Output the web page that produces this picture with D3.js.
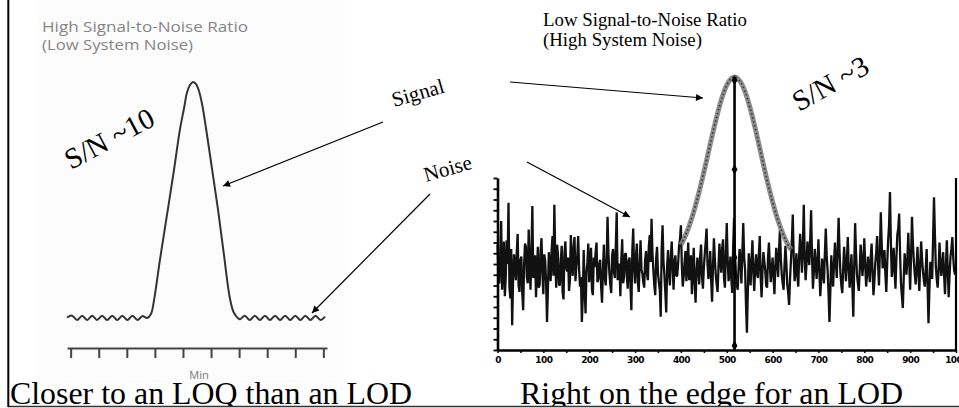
<!DOCTYPE html>
<html><head><meta charset="utf-8">
<script src="https://cdn.jsdelivr.net/npm/d3@7"></script>
<style>html,body{margin:0;padding:0;background:#fff;overflow:hidden;} svg{display:block;}</style>
</head><body>
<svg id="c" width="959" height="408"></svg>
<script>
// ---------- DATA ----------
// Left panel: idealised chromatogram (time in "Min" tick units, response)
const leftTicks = [0,1,2,3,4,5,6,7,8,9];
const leftTrace = [
  [-0.13,0.02],[0.05,0.10],[0.23,-0.08],[0.41,0.10],[0.59,-0.08],[0.77,0.10],[0.94,-0.08],[1.12,0.10],
  [1.30,-0.08],[1.48,0.10],[1.66,-0.08],[1.84,0.10],[2.02,-0.08],[2.20,0.10],[2.38,-0.08],[2.56,0.08],
  [2.72,0.0],[2.86,0.17],[2.97,0.76],[3.18,2.46],[3.43,4.36],[3.68,6.27],[3.89,7.97],[4.04,8.90],
  [4.14,9.53],[4.25,9.87],[4.36,10.0],[4.46,9.92],[4.57,9.62],[4.68,9.07],[4.82,8.05],[5.03,6.36],
  [5.25,4.58],[5.46,2.67],[5.67,0.85],[5.82,0.21],[6.03,-0.05],[6.20,0.10],[6.38,-0.08],[6.56,0.10],
  [6.74,-0.08],[6.92,0.10],[7.10,-0.08],[7.28,0.10],[7.46,-0.08],[7.64,0.10],[7.82,-0.08],[8.00,0.10],
  [8.18,-0.08],[8.36,0.10],[8.54,-0.08],[8.72,0.10],[8.90,-0.08],[9.06,0.06]
];

// Right panel: noisy trace; noiseValues at x = 0,4,8,...,996 and noiseValuesMid at x = 2,6,10,...,998
const noiseStep = 4;
const noiseValues = [
  9.8, 6.2, 12.0, 7.5, 5.0, 10.2, 13.7, 4.8, 2.3, 8.9,
  6.5, 10.8, 5.4, 8.7, 3.7, 9.9, 6.8, 11.2, 5.6, 13.4,
  7.0, 4.9, 9.6, 6.1, 10.4, 5.2, 8.3, 2.6, 9.1, 6.4,
  10.6, 13.5, 5.8, 8.8, 6.0, 9.7, 4.7, 10.1, 7.3, 5.5,
  10.7, 6.9, 10.5, 7.8, 10.6, 5.9, 2.6, 9.3, 3.4, 8.1,
  6.3, 9.5, 5.1, 7.7, 10.0, 6.6, 8.4, 4.4, 9.8, 6.0,
  12.4, 7.2, 5.3, 9.4, 6.7, 12.8, 8.0, 5.0, 10.3, 6.8,
  9.0, 5.7, 8.6, 3.7, 11.3, 6.2, 9.9, 5.4, 10.2, 7.1,
  5.8, 9.2, 6.5, 10.7, 12.2, 7.4, 5.1, 9.6, 6.3, 3.1,
  11.6, 7.0, 3.5, 9.3, 6.0, 10.1, 5.6, 8.8, 6.9, 9.7,
  11.6, 5.9, 8.2, 6.4, 10.0, 7.3, 5.2, 9.5, 4.4, 8.6,
  6.1, 9.8, 5.7, 8.9, 11.3, 6.6, 9.2, 4.5, 10.4, 7.0,
  5.4, 9.9, 7.2, 10.3, 5.8, 11.8, 6.4, 8.7, 5.3, 12.3,
  7.1, 5.6, 9.4, 6.2, 11.8, 7.5, 1.6, 9.0, 6.0, 10.2,
  5.5, 8.9, 6.7, 10.6, 4.9, 9.1, 7.4, 5.8, 10.0, 6.3,
  8.6, 5.2, 9.5, 6.8, 11.2, 7.0, 5.6, 9.7, 6.1, 4.2,
  8.3, 12.6, 6.4, 9.0, 5.9, 10.8, 7.2, 13.5, 6.5, 10.1,
  7.9, 13.0, 5.7, 9.4, 6.6, 10.3, 5.0, 8.5, 6.2, 11.3,
  7.4, 2.6, 8.8, 5.9, 10.0, 6.7, 12.3, 7.1, 5.3, 9.6,
  6.4, 10.5, 5.8, 8.9, 3.1, 11.8, 7.0, 5.5, 9.8, 6.9,
  10.4, 5.9, 8.7, 6.3, 9.9, 5.1, 8.1, 10.6, 6.0, 12.8,
  7.6, 9.3, 5.4, 10.2, 14.7, 6.8, 9.5, 5.7, 10.7, 12.7,
  6.2, 3.9, 9.0, 7.0, 10.9, 5.6, 12.4, 8.3, 6.1, 9.6,
  5.5, 10.1, 7.3, 5.9, 9.4, 2.5, 8.2, 6.6, 14.2, 7.8,
  5.8, 10.0, 6.9, 9.1, 5.2, 10.2, 4.9, 8.7, 10.5, 7.4
];
const noiseValuesMid = [
  7.2, 8.9, 5.6, 10.1, 6.8, 8.0, 5.9, 9.4, 6.6, 7.8,
  9.1, 6.0, 8.4, 5.3, 7.9, 9.6, 6.2, 8.1, 9.0, 6.7,
  8.8, 7.4, 5.8, 9.2, 7.1, 8.9, 6.3, 5.7, 7.6, 9.3,
  6.9, 8.5, 9.8, 6.1, 8.2, 5.4, 9.0, 7.7, 8.6, 6.5,
  8.3, 9.5, 6.4, 8.7, 7.5, 6.8, 4.9, 6.0, 7.2, 9.9,
  7.8, 5.6, 8.6, 9.1, 6.3, 8.0, 5.9, 7.4, 6.8, 8.2,
  9.0, 6.1, 8.8, 7.3, 9.7, 6.5, 7.9, 8.4, 6.2, 8.9,
  7.0, 8.3, 5.9, 9.2, 7.6, 8.7, 6.4, 8.0, 7.5, 6.3,
  8.4, 7.1, 9.6, 8.2, 9.0, 6.0, 8.5, 7.2, 5.6, 9.3,
  8.2, 5.4, 7.8, 7.1, 8.6, 7.7, 8.2, 6.9, 8.1, 10.3,
  7.9, 6.8, 9.2, 8.0, 6.5, 8.8, 7.0, 6.4, 7.2, 7.5,
  8.7, 6.9, 7.6, 10.0, 8.1, 7.4, 6.5, 7.8, 8.5, 6.1,
  7.7, 8.3, 9.5, 6.7, 9.0, 8.4, 7.2, 6.6, 9.6, 8.9,
  6.0, 7.8, 8.3, 9.1, 8.6, 4.2, 5.5, 7.7, 8.4, 7.3,
  7.6, 7.1, 8.9, 6.8, 7.3, 8.2, 6.0, 8.6, 7.9, 7.4,
  6.9, 7.8, 8.0, 9.3, 8.5, 6.2, 7.9, 8.1, 5.3, 6.6,
  10.1, 8.7, 7.5, 6.9, 8.8, 9.2, 9.6, 8.7, 8.0, 8.9,
  10.2, 8.6, 7.3, 8.1, 8.2, 7.4, 6.6, 7.2, 9.0, 8.8,
  5.3, 5.6, 7.0, 8.2, 8.1, 9.4, 9.2, 6.0, 7.6, 8.0,
  8.3, 7.7, 7.2, 5.9, 7.8, 9.0, 6.2, 7.4, 8.5, 8.2,
  7.9, 7.0, 7.5, 8.6, 7.3, 6.4, 9.1, 8.0, 9.2, 9.8,
  8.5, 7.0, 8.1, 11.6, 9.9, 7.8, 7.4, 8.6, 11.3, 9.0,
  5.0, 6.7, 7.8, 8.6, 8.1, 8.8, 9.9, 7.1, 7.6, 7.3,
  7.9, 8.4, 6.4, 7.5, 6.0, 5.6, 7.1, 10.3, 10.8, 6.6,
  7.4, 8.1, 8.0, 7.0, 7.7, 7.5, 7.0, 9.4, 8.6, 7.0
];
// Right panel: signal peak envelope
const signalX = [400,410,420,430,440,450,460,470,480,490,500,510,517,520,530,540,550,560,570,580,590,600,610,620,630,640];
const signalY = [9.76,10.66,11.78,13.15,14.75,16.52,18.40,20.27,22.02,23.51,24.63,25.27,25.40,25.38,24.94,24.01,22.65,20.99,19.15,17.26,15.44,13.77,12.30,11.08,10.09,9.34];
const peakPosition = 517;
const peakMarkers = [0.4, 8.6, 16.8, 25.1];
const xTickLabels = [0,100,200,300,400,500,600,700,800,900,1000];
const xMinorTicks = [0,50,100,150,200,250,300,350,400,450,500,550,600,650,700,750,800,850,900,950,1000];
const yTicks = [0,1,2,3,4,5,6,7,8,9,10,11,12,13,14,15,16];

// ---------- DRAW ----------
const svg = d3.select("#c");
const defs = svg.append("defs");
defs.append("marker").attr("id","ah").attr("viewBox","0 0 10 10").attr("refX",10).attr("refY",5)
  .attr("markerWidth",9).attr("markerHeight",7).attr("markerUnits","userSpaceOnUse").attr("orient","auto")
  .append("path").attr("d","M0,0L10,5L0,10Z").attr("fill","#000");

// left panel background (pasted image, very faint)
svg.append("rect").attr("x",38).attr("y",0).attr("width",307).attr("height",383).attr("fill","#fcfcfc");

// left panel
const xL = d3.scaleLinear().domain([-0.13,9.13]).range([67,327]);
const yL = d3.scaleLinear().domain([0,10]).range([318,82]);
svg.append("path").datum(leftTrace)
  .attr("d", d3.line().x(d=>xL(d[0])).y(d=>yL(d[1])).curve(d3.curveCatmullRom.alpha(0.5)))
  .attr("fill","none").attr("stroke","#333").attr("stroke-width",2);
const gL = svg.append("g").attr("transform","translate(0,348)")
  .call(d3.axisBottom(xL).tickValues(leftTicks).tickSize(10).tickSizeOuter(0).tickFormat(""));
gL.select(".domain").attr("stroke","#444").attr("stroke-width",2.2);
gL.selectAll(".tick line").attr("stroke","#444").attr("stroke-width",2);
svg.append("text").attr("x",199).attr("y",379).attr("text-anchor","middle")
  .attr("font-family","Open Sans, sans-serif").attr("font-size",11).attr("fill","#777").text("Min");

svg.append("text").attr("x",42).attr("y",31.5).attr("font-family","Open Sans, sans-serif").attr("font-size",15)
  .attr("fill","#858585").attr("textLength",206).attr("lengthAdjust","spacingAndGlyphs").text("High Signal-to-Noise Ratio");
svg.append("text").attr("x",42).attr("y",50).attr("font-family","Open Sans, sans-serif").attr("font-size",15)
  .attr("fill","#858585").attr("textLength",151).attr("lengthAdjust","spacingAndGlyphs").text("(Low System Noise)");

// right panel
const xR = d3.scaleLinear().domain([0,1000]).range([497.5,956]);
const yR = d3.scaleLinear().domain([0,16]).range([350,178]);

const noise = noiseValues.map((v,i)=>[i*noiseStep, v])
  .concat(noiseValuesMid.map((v,i)=>[i*noiseStep + noiseStep/2, v]))
  .sort((a,b)=>a[0]-b[0]);
svg.append("path").datum(noise)
  .attr("d", d3.line().x(d=>xR(d[0])).y(d=>yR(d[1])))
  .attr("fill","none").attr("stroke","#111").attr("stroke-width",2.3).attr("stroke-linejoin","bevel");

const sig = signalX.map((x,i)=>[x, signalY[i]]);
const sigLine = d3.line().x(d=>xR(d[0])).y(d=>yR(d[1])).curve(d3.curveCatmullRom);
svg.append("path").datum(sig).attr("d",sigLine).attr("fill","none").attr("stroke","#808080").attr("stroke-width",5).attr("opacity",0.9);
svg.append("path").datum(sig).attr("d",sigLine).attr("fill","none").attr("stroke","#333").attr("stroke-width",1.6).attr("stroke-dasharray","1.5,2.5");

// axes
const gx = svg.append("g").attr("transform","translate(0,350)")
  .call(d3.axisBottom(xR).tickValues(xMinorTicks).tickSize(3).tickSizeOuter(0).tickPadding(4)
    .tickFormat(d => xTickLabels.includes(d) ? String(d) : ""));
gx.select(".domain").attr("stroke","#000").attr("stroke-width",2.6);
gx.selectAll(".tick line").attr("stroke","#000").attr("stroke-width",1.5);
gx.selectAll(".tick text").attr("font-family","DejaVu Sans, sans-serif").attr("font-weight","bold")
  .attr("font-size",9).attr("letter-spacing","-0.6").attr("fill","#000");
const gy = svg.append("g").attr("transform","translate(497.5,0)")
  .call(d3.axisLeft(yR).tickValues(yTicks).tickSize(4).tickSizeOuter(0).tickFormat(""));
gy.select(".domain").attr("stroke","#000").attr("stroke-width",2.6);
gy.selectAll(".tick line").attr("stroke","#000").attr("stroke-width",1.8);
svg.append("line").attr("x1",xR(1000)).attr("x2",xR(1000)).attr("y1",yR(16)).attr("y2",yR(0))
  .attr("stroke","#000").attr("stroke-width",2.2);

// peak position line and markers
svg.append("line").attr("x1",xR(peakPosition)).attr("x2",xR(peakPosition))
  .attr("y1",yR(0)).attr("y2",yR(25.4)).attr("stroke","#000").attr("stroke-width",2.6);
svg.selectAll(".pm").data(peakMarkers).enter().append("path")
  .attr("transform",d=>`translate(${xR(peakPosition)},${yR(d)})`)
  .attr("d", d3.symbol(d3.symbolDiamond, 30)).attr("fill","#000");

svg.append("text").attr("x",543).attr("y",25.5).attr("font-family","Liberation Serif, Times New Roman, serif").attr("font-size",18)
  .attr("fill","#000").attr("textLength",204).attr("lengthAdjust","spacingAndGlyphs").text("Low Signal-to-Noise Ratio");
svg.append("text").attr("x",543).attr("y",46).attr("font-family","Liberation Serif, Times New Roman, serif").attr("font-size",18)
  .attr("fill","#000").attr("textLength",159).attr("lengthAdjust","spacingAndGlyphs").text("(High System Noise)");

// annotations
const serif = "Liberation Serif, Times New Roman, serif";
svg.append("text").attr("transform","translate(71,170) rotate(-28)").attr("font-family",serif).attr("font-size",29).text("S/N ~10");
svg.append("text").attr("transform","translate(799,112) rotate(-29)").attr("font-family",serif).attr("font-size",29).text("S/N ~3");
svg.append("text").attr("transform","translate(394,107) rotate(-16)").attr("font-family",serif).attr("font-size",21).text("Signal");
svg.append("text").attr("transform","translate(426,182) rotate(-16)").attr("font-family",serif).attr("font-size",21).text("Noise");

const arrows = [[383,122,223,186],[430,194,312,313],[510,82,703,98],[527,162,630,217]];
svg.selectAll(".arr").data(arrows).enter().append("line")
  .attr("x1",d=>d[0]).attr("y1",d=>d[1]).attr("x2",d=>d[2]).attr("y2",d=>d[3])
  .attr("stroke","#000").attr("stroke-width",1.2).attr("marker-end","url(#ah)");

// captions
svg.append("text").attr("x",10).attr("y",404).attr("font-family",serif).attr("font-size",31)
  .attr("textLength",402).attr("lengthAdjust","spacingAndGlyphs").text("Closer to an LOQ than an LOD");
svg.append("text").attr("x",520).attr("y",404).attr("font-family",serif).attr("font-size",31)
  .attr("textLength",383).attr("lengthAdjust","spacingAndGlyphs").text("Right on the edge for an LOD");

// frame
svg.append("rect").attr("x",0).attr("y",406).attr("width",959).attr("height",2).attr("fill","#fff");
svg.append("line").attr("x1",8).attr("x2",959).attr("y1",406.5).attr("y2",406.5).attr("stroke","#333").attr("stroke-width",1.5);
svg.append("line").attr("x1",8.3).attr("x2",8.3).attr("y1",0).attr("y2",407).attr("stroke","#000").attr("stroke-width",2);
</script>
</body></html>
